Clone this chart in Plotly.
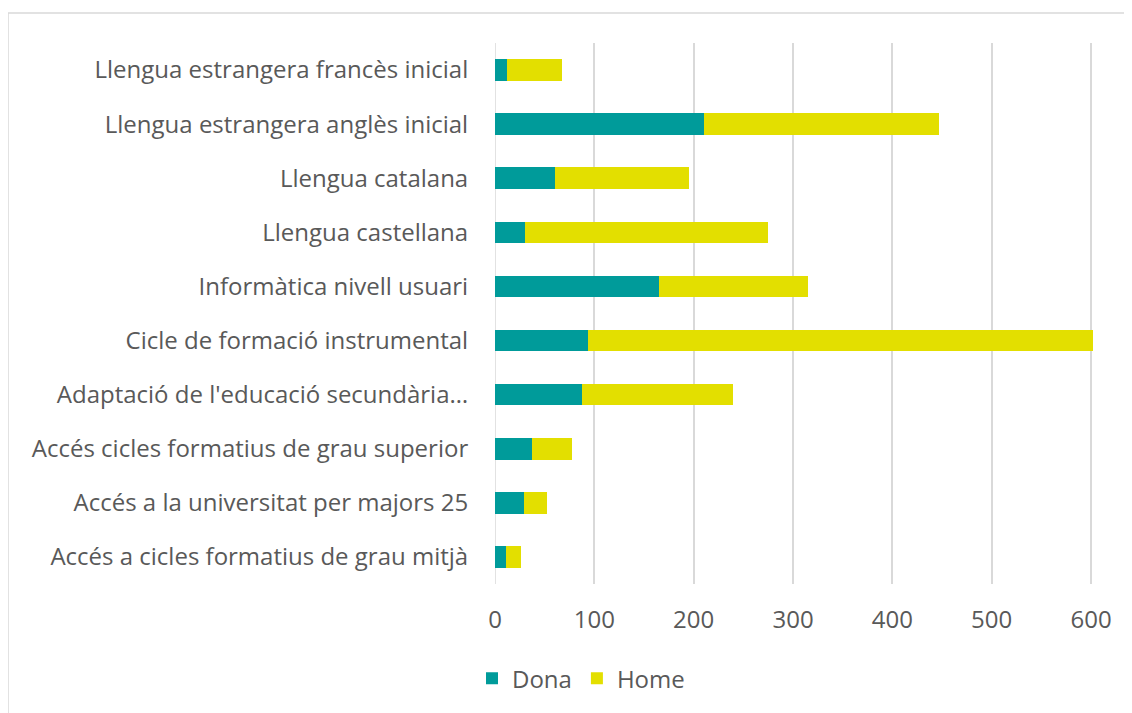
import plotly.graph_objects as go

categories = [
    "Llengua estrangera francès inicial",
    "Llengua estrangera anglès inicial",
    "Llengua catalana",
    "Llengua castellana",
    "Informàtica nivell usuari",
    "Cicle de formació instrumental",
    "Adaptació de l'educació secundària…",
    "Accés cicles formatius de grau superior",
    "Accés a la universitat per majors 25",
    "Accés a cicles formatius de grau mitjà",
]
dona = [12, 210, 60, 30, 165, 94, 88, 37, 29, 11]
home = [55, 237, 135, 245, 150, 508, 152, 41, 23, 15]
x_ticks = [0, 100, 200, 300, 400, 500, 600]

TEAL = "#009B9A"
YELLOW = "#E3DF00"
FONT = "Open Sans"
FS = 24
TXT = "#595959"
GRID = "#D9D9D9"

# page body has an 8px margin; work in reference pixel coords then offset
OFF = 8
W, H = 1132 - OFF, 713 - OFF
L, R, T, B = 495 - OFF, 39, 43 - OFF, 127
pw = W - L - R
ph = H - T - B

def px(x):
    return (x - OFF - L) / pw

def py(y):
    return 1 - (y - OFF - T) / ph

fig = go.Figure()
fig.add_trace(go.Bar(y=categories, x=dona, name="Dona", orientation="h",
                     marker=dict(color=TEAL, line=dict(width=0))))
fig.add_trace(go.Bar(y=categories, x=home, name="Home", orientation="h",
                     marker=dict(color=YELLOW, line=dict(width=0))))

fig.update_layout(
    barmode="stack",
    bargap=0.6,
    width=W, height=H,
    margin=dict(l=L, r=R, t=T, b=B, pad=0),
    paper_bgcolor="white",
    plot_bgcolor="white",
    font=dict(family=FONT, size=FS, color=TXT),
    showlegend=True,
    legend=dict(orientation="h", x=px(581), xanchor="center", y=py(681), yanchor="middle",
                font=dict(family=FONT, size=FS, color=TXT), traceorder="normal",
                itemwidth=30),
    xaxis=dict(range=[0, 602], tickvals=x_ticks, showgrid=True, gridcolor=GRID, gridwidth=1.5,
               zeroline=False, showline=False, ticks="outside", ticklen=14,
               tickcolor="rgba(0,0,0,0)", tickfont=dict(family=FONT, size=FS, color=TXT)),
    yaxis=dict(categoryorder="array", categoryarray=categories[::-1], autorange=True,
               showgrid=False, zeroline=False, showline=False, ticks="outside", ticklen=21,
               tickcolor="rgba(0,0,0,0)", tickfont=dict(family=FONT, size=FS, color=TXT)),
    shapes=[
        dict(type="rect", xref="paper", yref="paper", x0=px(8), y0=py(760), x1=px(1180), y1=py(13),
             line=dict(color=GRID, width=1.5), fillcolor="rgba(0,0,0,0)", layer="below"),
        dict(type="line", xref="x", yref="paper", x0=0, x1=0, y0=0, y1=1,
             line=dict(color=GRID, width=1.5), layer="below"),
    ],
)

fig.write_html("out.html")
